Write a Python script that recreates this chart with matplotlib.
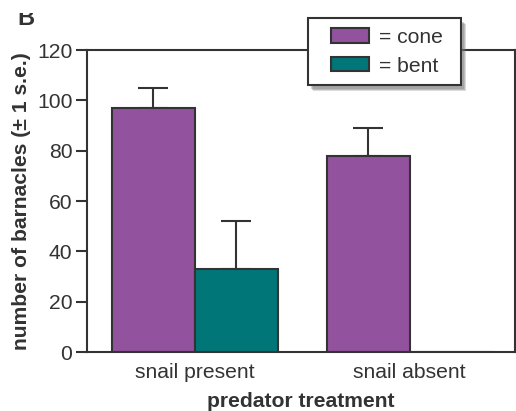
import matplotlib
matplotlib.use("Agg")
import matplotlib.pyplot as plt
import numpy as np
from matplotlib.patches import Rectangle

plt.rcParams['font.family'] = ['Liberation Sans', 'DejaVu Sans']

categories = ["snail present", "snail absent"]
cone = [97, 78]
cone_err = [8, 11]
bent = [33, 0]
bent_err = [19, 0]
series_names = ["= cone", "= bent"]

purple = "#93529E"
teal = "#007678"
dark = "#333333"
fs = 15.2

W, H = 516, 411
fig = plt.figure(figsize=(W/100, H/100), dpi=100)
ax = fig.add_axes([87/W, 1-352/H, 428/W, 302/H])

x = np.arange(len(categories))
w = 0.386
ax.bar(x - w/2, cone, w, color=purple, edgecolor=dark, linewidth=1.5, label=series_names[0], zorder=2)
ax.bar(x + w/2, bent, w, color=teal, edgecolor=dark, linewidth=1.5, label=series_names[1], zorder=2)

# upper error bars only
ax.errorbar(x - w/2, cone, yerr=[np.zeros(len(cone)), cone_err], fmt='none',
            ecolor=dark, elinewidth=1.5, capsize=10.5, capthick=1.5, zorder=1)
bmask = np.array(bent) > 0
ax.errorbar((x + w/2)[bmask], np.array(bent)[bmask],
            yerr=[np.zeros(bmask.sum()), np.array(bent_err)[bmask]], fmt='none',
            ecolor=dark, elinewidth=1.5, capsize=10.5, capthick=1.5, zorder=1)

ax.set_xlim(-0.5, 1.49)
ax.set_ylim(0, 120)
ax.set_yticks([0, 20, 40, 60, 80, 100, 120])
ax.set_xticks(x)
ax.set_xticklabels(categories)
ax.tick_params(axis='y', direction='out', length=8, width=1.5, color=dark,
               labelsize=fs, labelcolor=dark, pad=2.5)
ax.tick_params(axis='x', length=0, labelsize=fs, labelcolor=dark, pad=8)
for s in ax.spines.values():
    s.set_linewidth(1.5)
    s.set_color(dark)

ax.set_xlabel("predator treatment", fontsize=fs, fontweight='bold', color=dark, labelpad=7)
ax.set_ylabel("number of barnacles (± 1 s.e.)", fontsize=fs, fontweight='bold', color=dark, labelpad=4)

# legend frame with soft shadow
for dx, dy, a in [(5, -6, 0.25), (4, -5, 0.3), (3, -4, 0.3)]:
    sh = Rectangle((308/W + dx/W, 1-85/H + dy/H), 153/W, 67/H, transform=fig.transFigure,
                   facecolor='0.45', edgecolor='none', alpha=a, zorder=9, clip_on=False)
    ax.add_patch(sh)
frame = Rectangle((308/W, 1-85/H), 153/W, 67/H, transform=fig.transFigure,
                  facecolor='white', edgecolor=dark, linewidth=1.5, zorder=10, clip_on=False)
ax.add_patch(frame)

leg = ax.legend(loc='upper left', bbox_to_anchor=(331/W, 1-28/H),
                bbox_transform=fig.transFigure, fontsize=fs, frameon=False,
                handlelength=38/21, handleheight=0.68, borderpad=0, labelspacing=0.45,
                handletextpad=0.48, borderaxespad=0)
leg.set_zorder(11)
for t in leg.get_texts():
    t.set_color(dark)
for h in leg.legend_handles:
    h.set_linewidth(1.5)

# panel label, partially cut at top
fig.text(17/W, 1-25/H, "B", fontsize=17, fontweight='bold', color=dark, va='baseline')
fig.patches.append(Rectangle((0, 1-13/H), 60/W, 13/H, transform=fig.transFigure,
                             facecolor='white', edgecolor='none', zorder=5))

fig.savefig("out.png", dpi=100)
